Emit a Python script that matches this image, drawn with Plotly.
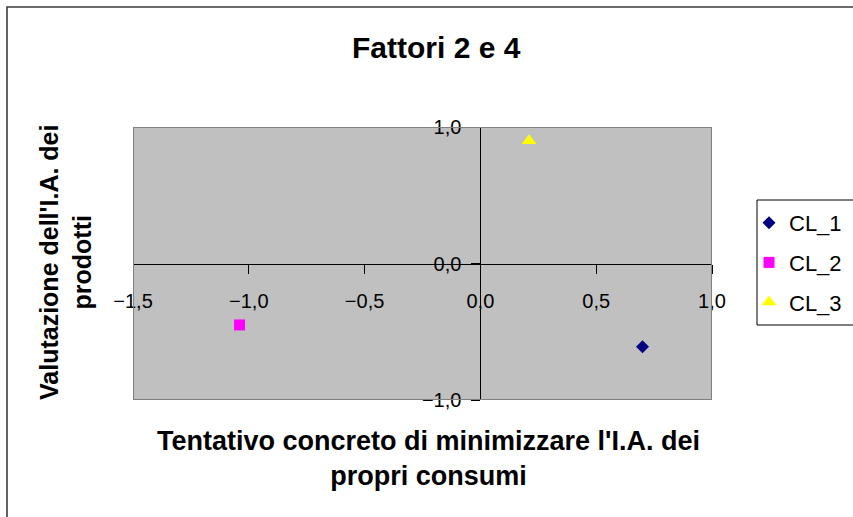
import plotly.graph_objects as go

# Cluster centroids on factors 2 and 4
clusters = ["CL_1", "CL_2", "CL_3"]
factor2 = [0.70, -1.04, 0.21]
factor4 = [-0.61, -0.45, 0.90]
symbols = ["diamond", "square", "triangle-up"]
colors = ["#000080", "#FF00FF", "#FFFF00"]
sizes = [10, 11, 13]

x_ticks = [-1.5, -1.0, -0.5, 0.0, 0.5, 1.0]
y_ticks = [-1.0, 0.0, 1.0]

title_text = "Fattori 2 e 4"
x_title = "Tentativo concreto di minimizzare l'I.A. dei<br>propri consumi"
y_title = "Valutazione dell'I.A. dei<br>prodotti"

FONT = "Liberation Sans, Arial, sans-serif"

fig = go.Figure()
for name, xv, yv, sym, col, sz in zip(clusters, factor2, factor4, symbols, colors, sizes):
    fig.add_trace(go.Scatter(
        x=[xv], y=[yv], mode="markers", name=name, legendgroup=name,
        marker=dict(symbol=sym, color=col, size=sz, line=dict(width=0)),
    ))

W, H = 853, 517
L, R, T, B = 133, 141, 127, 117
pw, ph = W - L - R, H - T - B


def px(xp):
    return (xp - L) / pw


def py(yp):
    return (H - B - yp) / ph


fig.update_layout(
    width=W, height=H,
    margin=dict(l=L, r=R, t=T, b=B, pad=0, autoexpand=False),
    paper_bgcolor="white",
    plot_bgcolor="#C0C0C0",
    separators=",.",
    font=dict(family=FONT, color="black"),
    showlegend=True,
    legend=dict(
        x=px(749), y=py(202), xanchor="left", yanchor="top",
        borderwidth=0, bgcolor="rgba(0,0,0,0)",
        font=dict(size=22, family=FONT, color="black"),
        tracegroupgap=8, itemwidth=30,
    ),
    xaxis=dict(
        range=[-1.5, 1.0], tickvals=x_ticks, tickformat=".1f",
        showgrid=False, zeroline=False,
        showline=True, linecolor="black", linewidth=1,
        ticks="outside", ticklen=9, tickcolor="black", tickwidth=1,
        anchor="free", position=0.5,
        tickfont=dict(size=20, family=FONT, color="black"),
        ticklabelstandoff=10,
    ),
    yaxis=dict(
        range=[-1.0, 1.0], tickvals=y_ticks, tickformat=".1f",
        showgrid=False, zeroline=False,
        showline=True, linecolor="black", linewidth=1,
        ticks="outside", ticklen=9, tickcolor="black", tickwidth=1,
        anchor="free", position=0.6,
        tickfont=dict(size=20, family=FONT, color="black"),
        ticklabelstandoff=6,
    ),
    shapes=[
        # plot-area frame
        dict(type="rect", xref="x", yref="y", x0=-1.5, x1=1.0, y0=-1.0, y1=1.0,
             line=dict(color="#808080", width=2), layer="above"),
        # chart-area frame
        dict(type="rect", xref="paper", yref="paper",
             x0=px(7), x1=px(870), y0=py(530), y1=py(7),
             line=dict(color="#3c3c3c", width=1.6), layer="above"),
        # legend frame
        dict(type="rect", xref="paper", yref="paper",
             x0=px(757), x1=px(870), y0=py(325), y1=py(200),
             line=dict(color="#000000", width=1), layer="below"),
    ],
    annotations=[
        dict(text="<b>" + title_text + "</b>", x=px(436), y=py(48),
             xref="paper", yref="paper", xanchor="center", yanchor="middle",
             showarrow=False, font=dict(size=30, family=FONT, color="black")),
        dict(text="<b>" + x_title + "</b>", x=px(428), y=py(458),
             xref="paper", yref="paper", xanchor="center", yanchor="middle",
             showarrow=False, font=dict(size=27, family=FONT, color="black")),
        dict(text="<b>" + y_title + "</b>", x=px(65), y=py(263),
             xref="paper", yref="paper", xanchor="center", yanchor="middle",
             textangle=-90, showarrow=False,
             font=dict(size=25, family=FONT, color="black")),
    ],
)

fig.write_html("out.html")
